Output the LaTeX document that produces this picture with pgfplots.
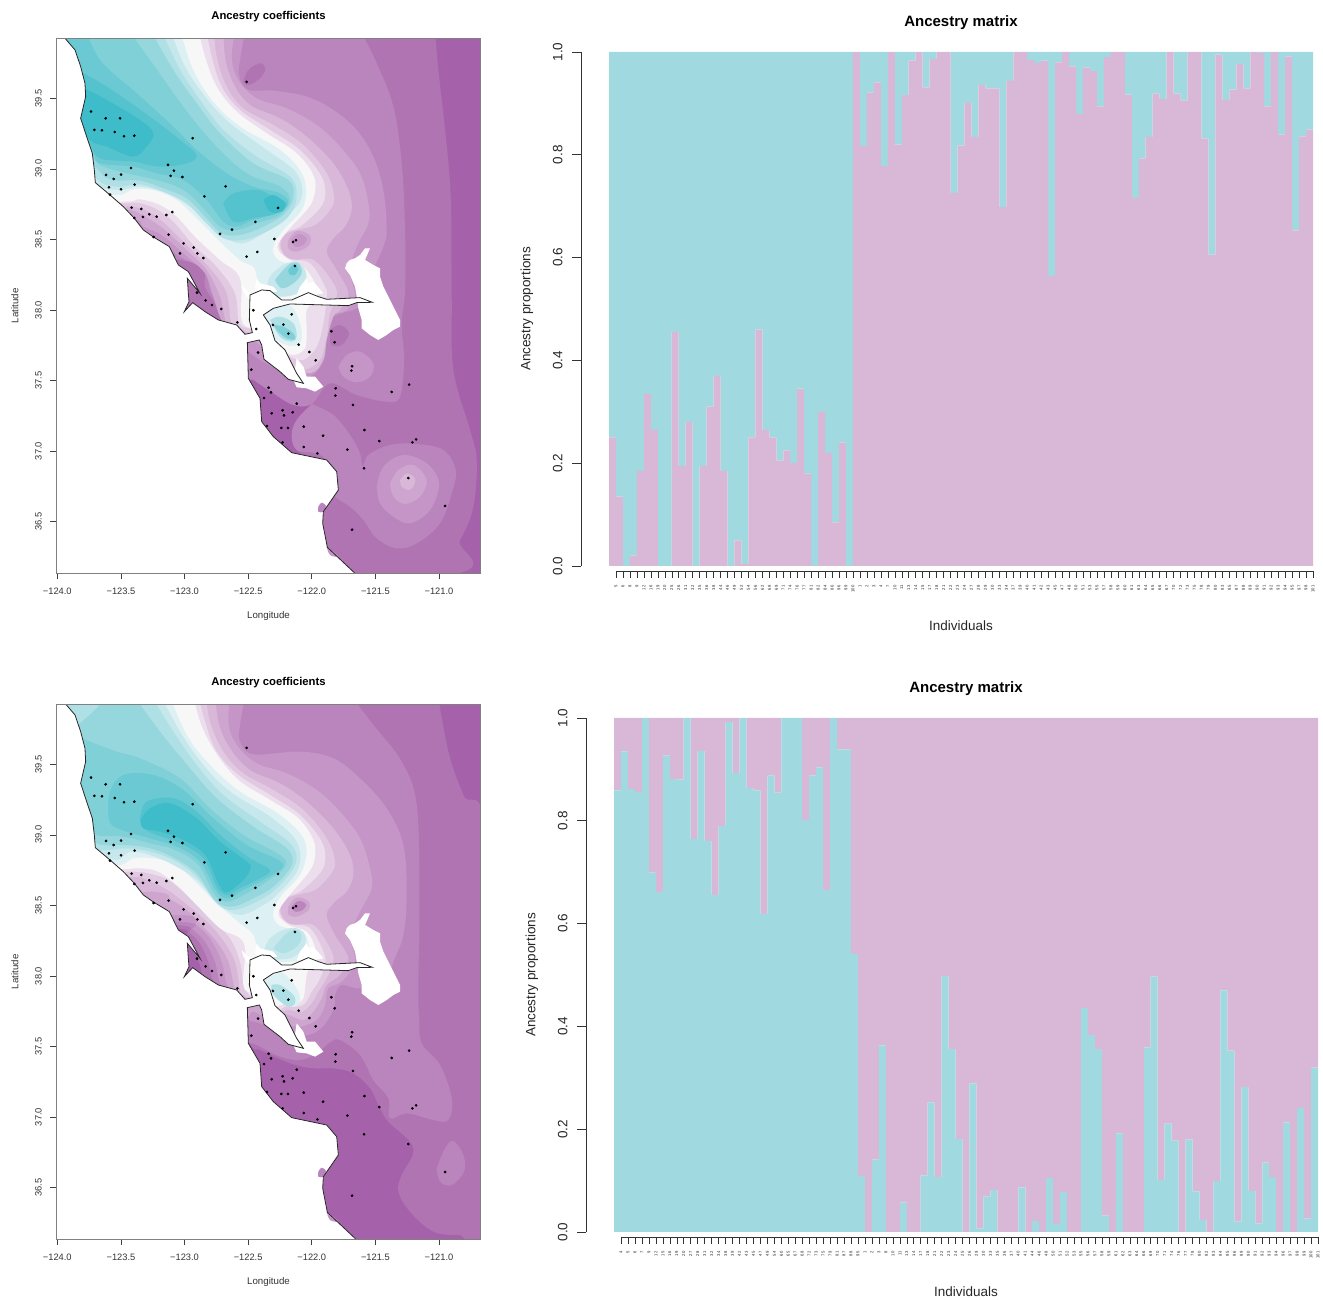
\documentclass[border=0pt]{standalone}
\usepackage{fontspec}
\setmainfont{Liberation Sans}
\usepackage{pgfplots}
\usepackage{pgfplotstable}
\pgfplotsset{compat=1.18}
\definecolor{c0}{RGB}{165,98,170}\definecolor{c1}{RGB}{176,116,178}\definecolor{c2}{RGB}{186,133,188}
\definecolor{c3}{RGB}{196,149,198}\definecolor{c4}{RGB}{205,165,207}\definecolor{c5}{RGB}{216,183,216}
\definecolor{c6}{RGB}{226,201,226}\definecolor{c7}{RGB}{237,222,237}\definecolor{cw}{RGB}{247,247,247}
\definecolor{t1}{RGB}{221,240,243}\definecolor{t2}{RGB}{198,231,235}\definecolor{t3}{RGB}{175,224,229}
\definecolor{t4}{RGB}{150,215,222}\definecolor{t5}{RGB}{128,208,216}\definecolor{t6}{RGB}{106,201,211}
\definecolor{t7}{RGB}{84,195,206}\definecolor{t8}{RGB}{62,188,202}
\definecolor{barteal}{RGB}{161,217,224}\definecolor{barpurple}{RGB}{216,183,215}
\pgfplotstableread{
lon lat
-122.512 39.616
-123.735 39.406
-123.620 39.358
-123.507 39.358
-123.709 39.276
-123.649 39.273
-123.549 39.261
-123.476 39.231
-123.395 39.235
-122.936 39.217
-123.421 39.006
-123.130 39.028
-123.083 38.987
-123.109 38.950
-123.017 38.942
-123.617 38.957
-123.499 38.959
-123.557 38.928
-123.392 38.888
-123.594 38.869
-123.499 38.855
-123.586 38.817
-122.677 38.876
-122.844 38.805
-122.265 38.723
-123.416 38.725
-123.340 38.716
-123.395 38.652
-123.327 38.659
-123.277 38.678
-123.219 38.661
-123.143 38.673
-123.096 38.694
-122.443 38.624
-122.627 38.569
-122.721 38.539
-123.125 38.534
-123.243 38.517
-122.294 38.503
-122.124 38.494
-122.147 38.482
-123.007 38.472
-122.928 38.442
-123.036 38.401
-122.899 38.401
-122.852 38.368
-122.428 38.411
-122.512 38.378
-122.132 38.312
-122.902 38.123
-122.834 38.068
-122.784 38.035
-122.711 38.007
-122.459 37.998
-122.158 37.969
-122.585 37.912
-122.436 37.865
-122.305 37.894
-122.223 37.896
-122.184 37.832
-122.103 37.754
-121.846 37.849
-121.820 37.771
-122.019 37.702
-122.422 37.698
-121.969 37.643
-121.683 37.601
-121.689 37.570
-122.475 37.577
-121.235 37.471
-121.372 37.419
-121.812 37.445
-121.814 37.393
-122.339 37.449
-122.320 37.416
-122.375 37.376
-122.118 37.336
-121.676 37.327
-122.229 37.289
-122.150 37.275
-122.218 37.253
-122.315 37.268
-122.352 37.178
-122.239 37.164
-122.187 37.164
-122.063 37.173
-121.586 37.149
-121.911 37.109
-121.469 37.071
-121.180 37.083
-121.209 37.062
-122.229 37.062
-122.063 37.029
-121.720 37.010
-121.956 36.984
-121.589 36.878
-121.241 36.809
-120.952 36.611
-121.683 36.443
}\sites
\pgfplotstableread{
x low high
0.5 .25 .75
1.5 .135 .865
2.5 0 1
3.5 .02 .98
4.5 .185 .815
5.5 .335 .665
6.5 .265 .735
7.5 0 1
8.5 0 1
9.5 .455 .545
10.5 .195 .805
11.5 .28 .72
12.5 0 1
13.5 .195 .805
14.5 .31 .69
15.5 .37 .63
16.5 .185 .815
17.5 0 1
18.5 .05 .95
19.5 .004 .996
20.5 .25 .75
21.5 .46 .54
22.5 .265 .735
23.5 .25 .75
24.5 .205 .795
25.5 .225 .775
26.5 .2 .8
27.5 .345 .655
28.5 .18 .82
29.5 0 1
30.5 .3 .7
31.5 .22 .78
32.5 .085 .915
33.5 .24 .76
34.5 0 1
35.5 1 0
36.5 .817 .183
37.5 .921 .079
38.5 .941 .059
39.5 .778 .222
40.5 1 0
41.5 .820 .180
42.5 .916 .084
43.5 .983 .017
44.5 1 0
45.5 .931 .069
46.5 .986 .014
47.5 1 0
48.5 1 0
49.5 .726 .274
50.5 .818 .182
51.5 .901 .099
52.5 .835 .165
53.5 .936 .064
54.5 .929 .071
55.5 .929 .071
56.5 .698 .302
57.5 .944 .056
58.5 1 0
59.5 1 0
60.5 .984 .016
61.5 .979 .021
62.5 .983 .017
63.5 .564 .436
64.5 .980 .020
65.5 1 0
66.5 .972 .028
67.5 .879 .121
68.5 .970 .030
69.5 .963 .037
70.5 .894 .106
71.5 .990 .010
72.5 1 0
73.5 1 0
74.5 .917 .083
75.5 .716 .284
76.5 .793 .207
77.5 .835 .165
78.5 .919 .081
79.5 .909 .091
80.5 1 0
81.5 .919 .081
82.5 .906 .094
83.5 1 0
84.5 1 0
85.5 .832 .168
86.5 .606 .394
87.5 .995 .005
88.5 .907 .093
89.5 .927 .073
90.5 .977 .023
91.5 .929 .071
92.5 1 0
93.5 .998 .002
94.5 .894 .106
95.5 1 0
96.5 .839 .161
97.5 .991 .009
98.5 .653 .347
99.5 .836 .164
100.5 .849 .151
}\matrixA
\pgfplotstableread{
x low high
0.5 .859 .141
1.5 .935 .065
2.5 .862 .138
3.5 .856 .144
4.5 1 0
5.5 .699 .301
6.5 .661 .339
7.5 .927 .073
8.5 .881 .119
9.5 .880 .120
10.5 1 0
11.5 .765 .235
12.5 .936 .064
13.5 .761 .239
14.5 .656 .344
15.5 .790 .210
16.5 .992 .008
17.5 .893 .107
18.5 1 0
19.5 .864 .136
20.5 .859 .141
21.5 .619 .381
22.5 .888 .112
23.5 .855 .145
24.5 1 0
25.5 1 0
26.5 1 0
27.5 .802 .198
28.5 .888 .112
29.5 .904 .096
30.5 .665 .335
31.5 1 0
32.5 .939 .061
33.5 .939 .061
34.5 .541 .459
35.5 .109 .891
36.5 0 1
37.5 .141 .859
38.5 .363 .637
39.5 0 1
40.5 0 1
41.5 .057 .943
42.5 0 1
43.5 0 1
44.5 .110 .890
45.5 .252 .748
46.5 .107 .893
47.5 .498 .502
48.5 .356 .644
49.5 .181 .819
50.5 0 1
51.5 .289 .711
52.5 .007 .993
53.5 .069 .931
54.5 .082 .918
55.5 0 1
56.5 0 1
57.5 0 1
58.5 .087 .913
59.5 0 1
60.5 .021 .979
61.5 0 1
62.5 .105 .895
63.5 .016 .984
64.5 .078 .922
65.5 0 1
66.5 0 1
67.5 .436 .564
68.5 .383 .617
69.5 .356 .644
70.5 .032 .968
71.5 0 1
72.5 .192 .808
73.5 0 1
74.5 0 1
75.5 0 1
76.5 .359 .641
77.5 .497 .503
78.5 .101 .899
79.5 .211 .789
80.5 .178 .822
81.5 0 1
82.5 .180 .820
83.5 .079 .921
84.5 .023 .977
85.5 0 1
86.5 .099 .901
87.5 .470 .530
88.5 .353 .647
89.5 .020 .980
90.5 .282 .718
91.5 .080 .920
92.5 .017 .983
93.5 .135 .865
94.5 .107 .893
95.5 0 1
96.5 .213 .787
97.5 0 1
98.5 .241 .759
99.5 .026 .974
100.5 .320 .680
}\matrixB
\def\yoff{205}
\newcommand\shape[2]{\addplot[fill=#1,draw=none,smooth,tension=0.6] table[header=false,row sep=\\,x expr={-124+(\thisrowno{0}-52)/381.6},y expr={39.5-(\thisrowno{1}-\yoff)/423.3}]{#2};}
\newcommand\poly[2]{\addplot[fill=#1,draw=none] table[header=false,row sep=\\,x expr={-124+(\thisrowno{0}-52)/381.6},y expr={39.5-(\thisrowno{1}-\yoff)/423.3}]{#2};}
\newcommand\coast[1]{\addplot[#1] table[header=false,row sep=\\,x expr={-124+(\thisrowno{0}-52)/381.6},y expr={39.5-(\thisrowno{1}-\yoff)/423.3}]{-60 1680\\ -60 0\\ 60 0\\ 75 25\\ 105 60\\ 122 110\\ 135 160\\ 137 200\\ 122 265\\ 140 320\\ 157 370\\ 163 420\\ 166 458\\ 210 495\\ 250 530\\ 283 565\\ 310 600\\ 340 621\\ 388 650\\ 415 705\\ 445 725\\ 480 790\\ 442 745\\ 445 790\\ 447 815\\ 433 845\\ 458 818\\ 495 845\\ 535 870\\ 590 885\\ 615 913\\ 637 908\\ 628 870\\ 630 795\\ 665 780\\ 690 782\\ 725 810\\ 755 810\\ 805 788\\ 835 800\\ 860 808\\ 960 803\\ 997 817\\ 950 818\\ 925 827\\ 750 822\\ 700 835\\ 670 855\\ 690 885\\ 695 900\\ 705 932\\ 735 960\\ 770 1030\\ 790 1060\\ 745 1048\\ 720 1025\\ 672 988\\ 665 945\\ 658 930\\ 622 938\\ 625 1045\\ 660 1105\\ 665 1175\\ 700 1220\\ 755 1268\\ 860 1290\\ 890 1325\\ 895 1380\\ 850 1445\\ 848 1480\\ 862 1552\\ 945 1630\\ 975 1680\\};}
\newcommand\masks{%
\poly{white}{920 700\\ 930 690\\ 945 685\\ 960 675\\ 975 655\\ 990 655\\ 975 690\\ 1000 705\\ 1020 715\\ 1020 740\\ 1030 770\\ 1045 800\\ 1060 830\\ 1080 870\\ 1080 890\\ 1060 900\\ 1040 915\\ 1015 930\\ 990 915\\ 965 895\\ 965 870\\ 955 835\\ 950 800\\ 945 770\\ 930 735\\ 915 715\\}
\poly{white}{650 745\\ 660 760\\ 680 765\\ 700 770\\ 712 785\\ 665 790\\ 645 775\\}
\poly{white}{780 770\\ 800 745\\ 805 760\\ 820 755\\ 850 790\\ 800 800\\ 770 795\\}
\poly{white}{605 765\\ 630 790\\ 625 805\\ 610 785\\}
\poly{white}{770 985\\ 790 1010\\ 800 1040\\ 825 1040\\ 850 1070\\ 825 1085\\ 800 1075\\ 770 1072\\ 760 1050\\}
\shape{c2}{835 1430\\ 845 1418\\ 858 1428\\ 850 1445\\ 835 1445\\ 835 1430\\}
\shape{c3}{860 1550\\ 880 1565\\ 895 1580\\ 870 1575\\ 860 1550\\}
}
\pgfplotsset{mapstyle/.style={scale only axis,width=424.4pt,height=535pt,anchor=south west,axis on top,
 xmin=-124.008,xmax=-120.672,ymin=36.134,ymax=39.925,axis background/.style={fill=c0},
 xtick={-124,-123.5,-123,-122.5,-122,-121.5,-121},xticklabels={−124.0,−123.5,−123.0,−122.5,−122.0,−121.5,−121.0},
 ytick={36.5,37,37.5,38,38.5,39,39.5},yticklabels={36.5,37.0,37.5,38.0,38.5,39.0,39.5},
 tick align=outside,xtick pos=bottom,ytick pos=left,tickwidth=6pt,tick style={black!75,line width=.6pt},
 axis line style={black!50,line width=.7pt},
 tick label style={font=\fontsize{9.3}{10}\selectfont,text=black!80},
 yticklabel style={xshift=-4pt,rotate=90,anchor=south,yshift=1pt},
 xticklabel style={yshift=-5pt},
 title={\fontsize{11.3}{12}\selectfont\bfseries Ancestry coefficients},
 title style={at={(axis description cs:0.5,1)},anchor=center,yshift=16pt},
 xlabel={\fontsize{9.7}{10}\selectfont Longitude},xlabel style={at={(axis description cs:0.5,0)},anchor=center,yshift=-43pt,text=black!80},
 ylabel={\fontsize{9.7}{10}\selectfont Latitude},ylabel style={at={(axis description cs:0,0.5)},anchor=center,yshift=41.5pt,text=black!80},
},
barstyle/.style={scale only axis,width=704pt,height=514pt,anchor=south west,hide axis,xmin=0,xmax=101,ymin=0,ymax=1,ybar stacked,bar width=1,
 title={\fontsize{15}{16}\selectfont\bfseries Ancestry matrix},title style={at={(axis description cs:0.5,1)},anchor=center,yshift=23pt}},
xtickaxis/.style={scale only axis,width=697pt,height=4pt,anchor=south west,xmin=1,xmax=101,ymin=0,ymax=1,axis x line=bottom,axis y line=none,
 xtick={1,...,101},tick align=outside,tickwidth=7pt,axis line style={-,black!80,line width=.6pt},tick style={black!80,line width=.5pt},
 xticklabel style={yshift=-4pt,font=\fontsize{4.2}{4.5}\selectfont,rotate=90,anchor=east,text=black!85},
 xlabel={\fontsize{13.5}{14}\selectfont Individuals},xlabel style={at={(axis description cs:0.5,0)},anchor=center,yshift=-55pt,xshift=-3.5pt,text=black!85}},
ytickaxis/.style={scale only axis,width=4pt,height=514pt,anchor=south west,xmin=0,xmax=1,ymin=0,ymax=1,axis y line=left,axis x line=none,
 ytick={0,.2,.4,.6,.8,1},yticklabels={0.0,0.2,0.4,0.6,0.8,1.0},tick align=outside,tickwidth=9pt,axis line style={-,black!80,line width=.6pt},tick style={black!80,line width=.6pt},
 yticklabel style={xshift=-6pt,font=\fontsize{13.5}{14}\selectfont,rotate=90,anchor=south,text=black!85},
 ylabel={\fontsize{13.5}{14}\selectfont Ancestry proportions},ylabel style={at={(axis description cs:0,0.5)},anchor=center,yshift=54pt,text=black!85}}
}
\begin{document}
\begin{tikzpicture}[x=1pt,y=1pt]
\path[use as bounding box] (0,0) rectangle (1323,1299);
%% top map
\def\yoff{205}
\begin{axis}[mapstyle,at={(56.3pt,725.7pt)}]
\shape{c1}{1183 -20\\ 1195 120\\ 1215 300\\ 1232 500\\ 1235 800\\ 1240 1020\\ 1290 1200\\ 1310 1290\\ 1300 1430\\ 1260 1530\\ 1190 1640\\ 0 1660\\ 0 -20\\}
\shape{c0}{600 1040\\ 640 1050\\ 720 1085\\ 815 1122\\ 770 1170\\ 755 1215\\ 770 1260\\ 800 1290\\ 700 1300\\ 600 1200\\ 600 1040\\}
\shape{c2}{950 -20\\ 1010 100\\ 1060 230\\ 1085 400\\ 1095 600\\ 1095 780\\ 1085 880\\ 1092 990\\ 1080 1100\\ 1040 1115\\ 950 1095\\ 870 1060\\ 815 1122\\ 760 1125\\ 700 1090\\ 640 1050\\ 620 1040\\ 560 920\\ 530 830\\ 495 770\\ 492 710\\ 420 690\\ 200 650\\ 0 640\\ 0 -20\\}
\shape{c2}{815 1122\\ 770 1170\\ 755 1215\\ 770 1260\\ 830 1270\\ 860 1290\\ 890 1330\\ 895 1380\\ 885 1400\\ 930 1430\\ 970 1470\\ 1010 1525\\ 1070 1555\\ 1130 1540\\ 1200 1480\\ 1235 1390\\ 1247 1320\\ 1210 1260\\ 1130 1242\\ 1050 1245\\ 985 1275\\ 968 1310\\ 960 1270\\ 930 1215\\ 880 1155\\ 815 1122\\}
\shape{c3}{1010 1370\\ 1030 1310\\ 1090 1275\\ 1160 1300\\ 1197 1360\\ 1170 1440\\ 1110 1480\\ 1060 1460\\ 1020 1420\\ 1010 1370\\}
\shape{c4}{1050 1360\\ 1075 1320\\ 1120 1305\\ 1160 1350\\ 1140 1400\\ 1095 1422\\ 1060 1400\\ 1050 1360\\}
\shape{c5}{1080 1350\\ 1100 1330\\ 1125 1345\\ 1120 1370\\ 1105 1380\\ 1085 1370\\ 1080 1350\\}
\shape{c3}{895 1010\\ 920 975\\ 960 965\\ 1000 1000\\ 990 1040\\ 950 1057\\ 910 1040\\ 895 1010\\}
\shape{c1}{610 155\\ 625 120\\ 660 100\\ 676 115\\ 665 140\\ 640 160\\ 620 165\\ 610 155\\}
\shape{c3}{620 -20\\ 600 90\\ 598 140\\ 625 180\\ 700 182\\ 800 200\\ 880 240\\ 950 300\\ 1000 380\\ 1030 480\\ 1040 600\\ 1030 650\\ 1000 720\\ 980 800\\ 950 835\\ 890 855\\ 850 880\\ 835 930\\ 850 990\\ 810 1040\\ 740 1030\\ 660 990\\ 620 960\\ 600 940\\ 560 860\\ 515 790\\ 490 720\\ 420 680\\ 340 630\\ 250 620\\ 0 600\\ 0 -20\\}
\shape{c1}{870 900\\ 900 885\\ 927 910\\ 905 945\\ 875 945\\ 870 920\\ 870 900\\}
\shape{c4}{590 -20\\ 575 80\\ 595 150\\ 650 205\\ 740 235\\ 830 285\\ 900 350\\ 960 430\\ 985 520\\ 985 580\\ 950 650\\ 930 720\\ 945 800\\ 920 840\\ 870 860\\ 840 910\\ 845 970\\ 820 1025\\ 760 1015\\ 690 970\\ 640 930\\ 590 900\\ 545 870\\ 520 800\\ 495 730\\ 430 670\\ 365 615\\ 310 590\\ 270 565\\ 0 550\\ 0 -20\\}
\shape{c5}{550 -20\\ 555 80\\ 580 160\\ 630 225\\ 720 265\\ 800 320\\ 880 400\\ 925 480\\ 935 540\\ 915 590\\ 885 620\\ 860 665\\ 890 720\\ 925 790\\ 900 840\\ 880 860\\ 860 930\\ 850 990\\ 810 1030\\ 730 1000\\ 690 950\\ 600 900\\ 560 880\\ 540 800\\ 500 720\\ 440 660\\ 375 600\\ 325 565\\ 275 540\\ 240 540\\ 0 540\\ 0 -20\\}
\shape{c6}{520 -20\\ 530 80\\ 560 170\\ 610 235\\ 700 285\\ 790 345\\ 860 430\\ 882 500\\ 870 540\\ 825 585\\ 770 600\\ 735 615\\ 722 650\\ 750 690\\ 820 690\\ 880 760\\ 890 800\\ 870 850\\ 860 920\\ 840 990\\ 790 1020\\ 740 1000\\ 700 960\\ 610 900\\ 575 880\\ 560 790\\ 515 720\\ 445 650\\ 385 590\\ 335 550\\ 280 530\\ 240 530\\ 0 530\\ 0 -20\\}
\shape{c7}{495 -20\\ 515 80\\ 545 170\\ 600 240\\ 690 300\\ 780 360\\ 845 440\\ 855 500\\ 835 540\\ 780 590\\ 735 610\\ 718 650\\ 745 685\\ 810 700\\ 855 770\\ 860 800\\ 850 880\\ 830 950\\ 790 990\\ 740 975\\ 700 950\\ 640 900\\ 598 880\\ 585 790\\ 530 710\\ 460 645\\ 400 575\\ 345 535\\ 290 518\\ 240 520\\ 0 520\\ 0 -20\\}
\shape{cw}{470 -20\\ 495 80\\ 530 170\\ 590 245\\ 680 310\\ 770 370\\ 822 440\\ 822 500\\ 800 540\\ 745 600\\ 712 650\\ 740 685\\ 790 710\\ 825 760\\ 830 800\\ 800 840\\ 800 900\\ 795 955\\ 760 975\\ 720 960\\ 700 950\\ 640 900\\ 605 870\\ 600 745\\ 540 690\\ 470 625\\ 410 560\\ 360 525\\ 300 508\\ 250 515\\ 0 515\\ 0 -20\\}
\shape{t1}{415 -20\\ 455 110\\ 515 210\\ 600 290\\ 720 360\\ 790 440\\ 790 530\\ 730 600\\ 700 650\\ 715 690\\ 790 715\\ 800 760\\ 780 790\\ 700 800\\ 660 790\\ 650 740\\ 640 710\\ 600 690\\ 530 625\\ 470 565\\ 410 510\\ 340 480\\ 280 478\\ 235 495\\ 150 470\\ 100 300\\ 50 0\\}
\shape{t2}{385 -20\\ 430 100\\ 495 200\\ 570 280\\ 680 360\\ 770 430\\ 782 510\\ 720 575\\ 670 610\\ 610 640\\ 560 625\\ 500 580\\ 450 530\\ 380 490\\ 300 470\\ 230 480\\ 150 450\\ 100 300\\ 50 0\\}
\shape{t2}{680 780\\ 690 740\\ 730 705\\ 770 695\\ 795 720\\ 795 750\\ 770 790\\ 720 800\\ 680 780\\}
\shape{t4}{705 750\\ 745 705\\ 775 700\\ 785 730\\ 760 760\\ 725 775\\ 705 750\\}
\shape{t6}{745 720\\ 760 705\\ 775 715\\ 765 735\\ 748 733\\ 745 720\\}
\shape{t1}{670 860\\ 710 830\\ 755 830\\ 780 880\\ 785 920\\ 775 945\\ 740 945\\ 700 920\\ 670 860\\}
\shape{t3}{690 870\\ 720 860\\ 760 880\\ 770 920\\ 755 935\\ 720 920\\ 690 870\\}
\shape{t5}{700 885\\ 730 890\\ 760 910\\ 765 928\\ 740 925\\ 715 905\\ 700 885\\}
\shape{t3}{355 -20\\ 415 110\\ 480 210\\ 550 300\\ 650 380\\ 750 440\\ 770 500\\ 745 560\\ 680 605\\ 610 630\\ 550 625\\ 495 575\\ 440 520\\ 370 485\\ 300 463\\ 230 470\\ 165 440\\ 100 300\\ 50 0\\}
\shape{t4}{320 -20\\ 400 120\\ 470 220\\ 540 310\\ 640 400\\ 745 450\\ 760 500\\ 735 550\\ 670 590\\ 600 615\\ 545 610\\ 495 560\\ 440 505\\ 370 475\\ 300 452\\ 220 450\\ 175 420\\ 100 300\\ 50 0\\}
\shape{t5}{250 -20\\ 330 90\\ 430 230\\ 520 340\\ 620 430\\ 720 470\\ 750 510\\ 720 555\\ 650 580\\ 590 600\\ 540 590\\ 490 535\\ 430 480\\ 350 450\\ 260 430\\ 190 410\\ 165 390\\ 100 300\\ 50 0\\}
\shape{t6}{130 -20\\ 180 90\\ 290 190\\ 400 290\\ 470 360\\ 560 430\\ 640 470\\ 720 490\\ 745 520\\ 710 550\\ 640 570\\ 590 590\\ 550 575\\ 500 510\\ 430 450\\ 350 430\\ 280 410\\ 180 400\\ 160 370\\ 100 280\\ 90 150\\ 60 0\\}
\shape{t7}{130 130\\ 200 170\\ 330 260\\ 420 330\\ 470 375\\ 440 400\\ 360 410\\ 280 395\\ 180 385\\ 150 340\\ 110 260\\ 110 160\\ 130 130\\}
\shape{t7}{550 520\\ 580 490\\ 650 480\\ 690 495\\ 740 520\\ 710 550\\ 640 565\\ 580 575\\ 550 520\\}
\shape{t8}{135 175\\ 200 210\\ 300 270\\ 340 310\\ 320 350\\ 280 380\\ 200 350\\ 150 330\\ 115 260\\ 135 175\\}
\shape{t8}{670 510\\ 700 495\\ 735 520\\ 725 545\\ 690 545\\ 670 510\\}
\shape{c4}{745 630\\ 770 603\\ 808 615\\ 808 645\\ 770 665\\ 745 655\\ 745 630\\}
\shape{c3}{753 630\\ 775 612\\ 800 625\\ 790 645\\ 765 650\\ 753 630\\}
\coast{fill=white,draw=none}
\masks
\coast{draw=black!85,line width=.8pt}
\addplot[only marks,mark=*,mark size=1.15pt,black] table[x=lon,y=lat]{\sites};
\end{axis}
%% bottom map
\def\yoff{208}
\begin{axis}[mapstyle,at={(56.3pt,59.7pt)}]
\shape{c1}{1190 -20\\ 1225 170\\ 1270 300\\ 1340 460\\ 1340 1615\\ 1260 1620\\ 1180 1610\\ 1110 1550\\ 1075 1490\\ 1085 1440\\ 1118 1380\\ 1110 1340\\ 1045 1280\\ 1020 1240\\ 990 1180\\ 940 1135\\ 880 1120\\ 820 1120\\ 750 1105\\ 660 1065\\ 640 1060\\ 600 1000\\ 500 870\\ 480 810\\ 460 765\\ 440 725\\ 400 700\\ 0 700\\ 0 -20\\}
\shape{c2}{915 -20\\ 1000 90\\ 1085 200\\ 1130 330\\ 1138 600\\ 1135 870\\ 1137 970\\ 1145 1045\\ 1200 1110\\ 1235 1210\\ 1225 1275\\ 1180 1275\\ 1100 1255\\ 1050 1270\\ 1045 1210\\ 1000 1155\\ 960 1080\\ 900 1035\\ 870 1042\\ 830 1075\\ 780 1095\\ 720 1085\\ 650 1050\\ 620 1040\\ 600 1000\\ 525 870\\ 505 800\\ 480 745\\ 450 715\\ 410 690\\ 0 680\\ 0 -20\\}
\shape{c2}{1190 1420\\ 1215 1360\\ 1240 1338\\ 1270 1380\\ 1272 1430\\ 1235 1470\\ 1200 1460\\ 1190 1420\\}
\shape{c3}{620 -20\\ 600 90\\ 600 140\\ 640 178\\ 780 170\\ 880 190\\ 960 250\\ 1040 340\\ 1090 450\\ 1100 600\\ 1090 720\\ 1060 800\\ 1040 860\\ 960 880\\ 905 870\\ 885 900\\ 883 935\\ 860 980\\ 830 1010\\ 800 1020\\ 750 1020\\ 700 1005\\ 660 985\\ 625 975\\ 610 960\\ 545 875\\ 525 800\\ 495 740\\ 460 705\\ 425 680\\ 0 660\\ 0 -20\\}
\shape{c4}{575 -20\\ 565 80\\ 590 150\\ 650 205\\ 740 235\\ 830 285\\ 900 350\\ 960 430\\ 990 520\\ 995 580\\ 960 650\\ 930 720\\ 945 800\\ 905 860\\ 865 880\\ 855 930\\ 835 970\\ 800 990\\ 765 995\\ 700 980\\ 640 950\\ 620 960\\ 565 880\\ 545 800\\ 510 730\\ 470 690\\ 430 660\\ 0 640\\ 0 -20\\}
\shape{c5}{525 -20\\ 535 80\\ 570 160\\ 630 225\\ 720 265\\ 800 320\\ 880 400\\ 930 480\\ 940 540\\ 920 590\\ 885 620\\ 860 660\\ 885 720\\ 925 790\\ 900 840\\ 860 870\\ 845 910\\ 820 950\\ 790 975\\ 745 960\\ 690 950\\ 600 900\\ 585 885\\ 565 800\\ 530 740\\ 485 690\\ 440 645\\ 395 615\\ 340 590\\ 0 580\\ 0 -20\\}
\shape{c6}{495 -20\\ 510 80\\ 550 170\\ 610 235\\ 700 285\\ 790 345\\ 860 430\\ 885 500\\ 870 540\\ 825 585\\ 770 600\\ 735 615\\ 722 650\\ 750 690\\ 820 690\\ 870 760\\ 880 800\\ 860 850\\ 835 890\\ 815 925\\ 785 950\\ 745 945\\ 700 950\\ 610 900\\ 600 885\\ 585 800\\ 545 730\\ 490 670\\ 430 620\\ 375 580\\ 320 555\\ 270 545\\ 0 545\\ 0 -20\\}
\shape{c7}{470 -20\\ 495 80\\ 530 170\\ 595 240\\ 690 300\\ 780 360\\ 845 440\\ 855 500\\ 835 540\\ 780 590\\ 735 610\\ 718 650\\ 745 685\\ 810 700\\ 850 770\\ 855 810\\ 835 860\\ 815 890\\ 795 925\\ 770 935\\ 735 935\\ 700 950\\ 620 890\\ 600 800\\ 570 730\\ 505 665\\ 440 600\\ 385 555\\ 325 535\\ 265 530\\ 0 530\\ 0 -20\\}
\shape{cw}{455 -20\\ 480 80\\ 525 170\\ 595 255\\ 690 315\\ 775 370\\ 822 440\\ 822 500\\ 800 540\\ 745 605\\ 715 655\\ 745 690\\ 800 710\\ 825 760\\ 815 800\\ 800 840\\ 795 880\\ 790 910\\ 770 925\\ 720 930\\ 700 950\\ 640 900\\ 610 870\\ 612 745\\ 540 700\\ 470 630\\ 410 570\\ 350 528\\ 290 520\\ 245 522\\ 0 520\\ 0 -20\\}
\shape{t1}{380 -20\\ 440 120\\ 510 210\\ 600 290\\ 720 360\\ 795 440\\ 785 530\\ 725 600\\ 700 650\\ 715 690\\ 790 715\\ 805 760\\ 780 795\\ 700 800\\ 660 790\\ 640 720\\ 600 685\\ 530 625\\ 470 565\\ 410 510\\ 340 490\\ 280 490\\ 235 510\\ 150 470\\ 100 300\\ 50 0\\}
\shape{t2}{350 -20\\ 420 110\\ 490 210\\ 570 290\\ 690 365\\ 770 440\\ 775 520\\ 715 595\\ 670 630\\ 600 660\\ 540 630\\ 470 555\\ 400 510\\ 330 480\\ 270 470\\ 230 495\\ 170 455\\ 100 300\\ 50 0\\}
\shape{t2}{670 770\\ 690 730\\ 730 705\\ 770 700\\ 795 720\\ 790 760\\ 750 790\\ 690 790\\ 670 770\\}
\shape{t3}{700 760\\ 740 715\\ 770 705\\ 785 725\\ 770 755\\ 730 775\\ 700 760\\}
\shape{t1}{670 860\\ 700 840\\ 730 835\\ 770 880\\ 780 915\\ 765 935\\ 730 925\\ 695 895\\ 670 860\\}
\shape{t3}{695 870\\ 720 870\\ 760 900\\ 765 925\\ 745 935\\ 715 915\\ 695 890\\ 695 870\\}
\shape{t3}{320 -20\\ 400 110\\ 470 210\\ 550 300\\ 660 380\\ 755 450\\ 765 510\\ 710 580\\ 650 620\\ 580 645\\ 530 625\\ 470 545\\ 400 495\\ 330 470\\ 260 460\\ 195 465\\ 165 450\\ 100 300\\ 50 0\\}
\shape{t4}{265 -20\\ 360 110\\ 450 220\\ 530 310\\ 640 395\\ 740 460\\ 755 510\\ 700 575\\ 640 610\\ 575 635\\ 525 615\\ 470 535\\ 395 485\\ 330 460\\ 260 450\\ 190 450\\ 160 430\\ 100 300\\ 90 200\\ 90 120\\ 170 40\\ 215 -20\\}
\shape{t5}{125 130\\ 230 170\\ 300 190\\ 420 250\\ 510 340\\ 610 420\\ 720 480\\ 735 515\\ 680 560\\ 620 595\\ 565 620\\ 525 600\\ 475 510\\ 405 465\\ 330 445\\ 250 425\\ 170 420\\ 155 380\\ 100 265\\ 125 130\\}
\shape{t6}{205 360\\ 210 290\\ 250 240\\ 340 240\\ 430 285\\ 520 370\\ 620 450\\ 715 495\\ 725 520\\ 670 555\\ 610 585\\ 565 610\\ 530 590\\ 480 500\\ 410 455\\ 330 430\\ 260 410\\ 215 390\\ 205 360\\}
\shape{t7}{300 370\\ 320 320\\ 400 310\\ 470 350\\ 540 420\\ 630 490\\ 690 525\\ 660 550\\ 600 580\\ 560 600\\ 530 575\\ 490 490\\ 420 445\\ 350 420\\ 310 400\\ 300 370\\}
\shape{t8}{302 375\\ 330 340\\ 390 325\\ 470 370\\ 540 440\\ 620 500\\ 632 520\\ 610 555\\ 560 592\\ 535 565\\ 495 480\\ 430 435\\ 360 410\\ 310 400\\ 302 375\\}
\shape{c4}{745 635\\ 770 608\\ 806 620\\ 806 645\\ 770 665\\ 745 658\\ 745 635\\}
\shape{c2}{755 635\\ 775 618\\ 798 628\\ 788 645\\ 765 650\\ 755 635\\}
\coast{fill=white,draw=none}
\masks
\coast{draw=black!85,line width=.8pt}
\addplot[only marks,mark=*,mark size=1.15pt,black] table[x=lon,y=lat]{\sites};
\end{axis}
%% top matrix
\begin{axis}[barstyle,at={(609pt,733pt)}]
\addplot[fill=barpurple,draw=none] table[x=x,y=low]{\matrixA};
\addplot[fill=barteal,draw=none] table[x=x,y=high]{\matrixA};
\end{axis}
\begin{axis}[xtickaxis,at={(616pt,728pt)},
 xticklabels={5,6,8,9,12,16,19,20,25,26,31,32,35,36,38,44,46,49,52,54,56,62,68,69,71,74,76,77,81,82,84,86,96,99,100,1,2,3,4,7,10,11,13,14,15,17,18,21,22,23,24,27,28,29,30,33,34,37,39,40,41,42,43,45,47,48,50,51,53,55,57,58,59,60,61,63,64,65,66,67,70,72,73,75,78,79,80,83,85,87,88,89,90,91,92,93,94,95,97,98,101}]
\end{axis}
\begin{axis}[ytickaxis,at={(581pt,733pt)}]
\end{axis}
%% bottom matrix
\begin{axis}[barstyle,at={(614pt,67pt)}]
\addplot[fill=barteal,draw=none] table[x=x,y=low]{\matrixB};
\addplot[fill=barpurple,draw=none] table[x=x,y=high]{\matrixB};
\end{axis}
\begin{axis}[xtickaxis,at={(621pt,62pt)},
 xticklabels={4,5,6,7,9,12,15,16,19,20,27,28,31,32,34,38,39,42,43,45,47,49,54,60,65,67,68,72,73,75,79,81,87,88,95,1,2,3,8,10,11,13,14,17,18,21,22,23,24,25,26,29,30,33,35,36,37,40,41,44,46,48,50,51,52,53,55,56,57,58,59,61,62,63,64,66,69,70,71,74,76,77,78,80,82,83,84,85,86,89,90,91,92,93,94,96,97,98,99,100,101}]
\end{axis}
\begin{axis}[ytickaxis,at={(586pt,67pt)}]
\end{axis}
\end{tikzpicture}
\end{document}
